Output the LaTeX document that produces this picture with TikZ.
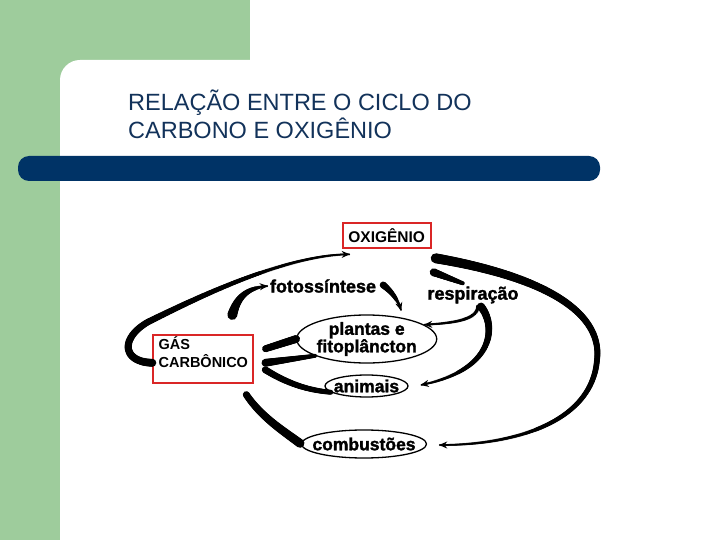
\documentclass[tikz,border=0pt]{standalone}
\usepackage{fontspec}
\setmainfont{Liberation Sans}[BoldFeatures={FakeBold=1.6}]
\newfontfamily\boxfont{Liberation Sans Bold}
\usetikzlibrary{shapes.geometric,arrows.meta,decorations.markings,calc}
\definecolor{slidegreen}{RGB}{158,204,156}
\definecolor{slidenavy}{RGB}{0,51,102}
\definecolor{titlenavy}{RGB}{18,50,90}
\definecolor{boxred}{RGB}{218,38,38}

\begin{document}
\begin{tikzpicture}[x=1pt, y=-1pt,
  title/.style={inner sep=0, text=titlenavy, font=\fontsize{23.5}{28}\selectfont},
  box/.style={draw=boxred, line width=2pt, inner sep=0, font=\boxfont\fontsize{14.5}{16.5}\selectfont},
  blob/.style={ellipse, draw, line width=1.3pt, align=center, inner xsep=-15pt, inner ysep=-4pt, font=\bfseries\fontsize{17.5}{17.5}\selectfont},
  word/.style={inner sep=2pt, font=\bfseries\fontsize{18}{18}\selectfont},
  link/.style={line width=1.5pt, -{Stealth[length=8pt,width=7pt]}},
  taper/.style 2 args={postaction={decorate, decoration={markings,
    mark=between positions 0 and 1 step 1pt with {%
      \pgfmathsetmacro\halfw{(#1+(#2-#1)*\pgfkeysvalueof{/pgf/decoration/mark info/distance from start}/\pgfdecoratedpathlength)/2}%
      \fill (0,0) circle (\halfw pt);}}}}]
  \useasboundingbox (0,0) rectangle (720,540);
  % slide background
  \fill[slidegreen] (0,0) rectangle (250,540);
  \fill[white, rounded corners=20] (60,560) -- (60,60) -- (740,60) -- (740,560) -- cycle;
  \fill[slidenavy, rounded corners=11] (600,156) -- (18,156) -- (18,181) -- (600,181) -- cycle;
  \node[title, anchor=base west] (head1) at (128,111) {RELAÇÃO ENTRE O CICLO DO};
  \node[title, anchor=base west] (head2) at (128,139) {CARBONO E OXIGÊNIO};

  % the cycle
  \node[box, minimum width=88, minimum height=25.6, font=\boxfont\fontsize{15.5}{17}\selectfont] (oxi) at (386.7,235.5) {OXIGÊNIO};
  \node[box, minimum width=100, minimum height=47.7] (gas) at (203.3,358.8)
    {\raisebox{4pt}[\height][\depth]{\begin{tabular}{@{}l@{}}GÁS\\CARBÔNICO\end{tabular}}};
  \node[blob, minimum width=140, minimum height=48] (plantas) at (366.7,339) {plantas e\\fitoplâncton};
  \node[blob, minimum width=83, minimum height=22] (animais) at (366.5,386) {animais};
  \node[blob, minimum width=125, minimum height=28] (comb) at (364,444) {combustões};
  \node[word] (foto) at (323,286) {fotossíntese};
  \node[word] (resp) at (473,295) {respiração};

  \draw[link, taper={8}{2}] ($(gas.west)+(0,4)$) .. controls (122,362) and (120,338) .. (148,322)
    .. controls (212,290) and (290,255) .. ($(oxi.south west)+(8,5)$);
  \draw[link, taper={10}{2}] ($(oxi.south east)+(4,9)$) .. controls (562,280) and (602,320) .. (597,360)
    .. controls (592,420) and (520,445) .. ($(comb.east)+(12,1)$);
  \path[taper={8}{4}] ($(oxi.south east)+(2,23)$) -- ($(resp.north)+(-10,-1)$);
  \draw[link, taper={4}{2}] ($(resp.south)+(5,1)$) .. controls (477,318) and (460,323) .. (plantas.14);
  \draw[link, taper={8}{2}] ($(resp.south)+(8,1)$) .. controls (496,325) and (496,370) .. ($(animais.east)+(12,-1)$);
  \draw[link, taper={10}{2}] ($(gas.north)+(29,-19)$) .. controls (237,298) and (246,288) .. (foto.west);
  \draw[link, taper={7}{2}] ($(foto.east)+(5,-1)$) .. controls (392,292) and (398,300) .. ($(plantas.32)+(0,-7)$);
  \path[taper={8}{7}] (plantas.west) -- ($(gas.east)+(11,-10)$);
  \path[taper={4}{8}] (plantas.198) -- ($(gas.east)+(11,4)$);
  \path[taper={7}{5}] ($(gas.east)+(11,11)$) .. controls (285,382) and (305,390) .. (animais.190);
  \path[taper={7}{9}] ($(gas.south east)+(-8,11)$) .. controls (262,418) and (285,432) .. (comb.west);
\end{tikzpicture}
\end{document}
